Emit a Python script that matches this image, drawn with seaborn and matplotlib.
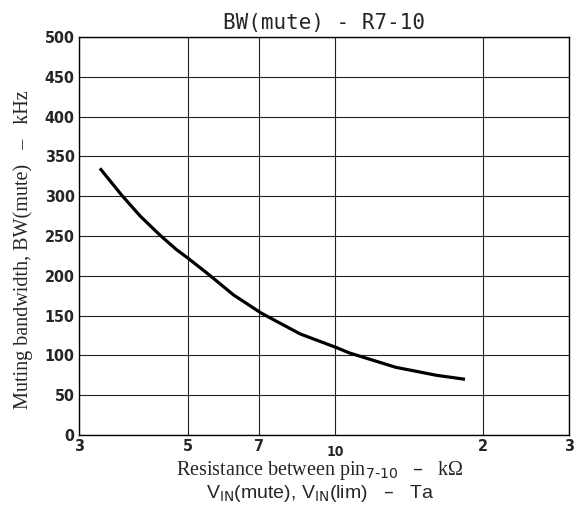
import numpy as np
import pandas as pd
import matplotlib
matplotlib.use("Agg")
import matplotlib.pyplot as plt
import matplotlib.transforms as mtransforms
from matplotlib.font_manager import FontProperties
import seaborn as sns

# values
resistance_k = [3.31, 3.67, 4.0, 4.39, 4.74, 5.01, 5.51, 6.2, 7.07, 8.48, 10.04, 10.7, 13.3, 16.1, 18.4]
bw_mute_khz = [335, 301, 275, 251, 233, 222, 202, 176, 153, 127, 110, 103, 85, 75, 70]
x_ticks = [3, 5, 7, 10, 20, 30]
x_tick_labels = ["3", "5", "7", "10", "2", "3"]
y_ticks = list(range(0, 501, 50))

df = pd.DataFrame({"R": resistance_k, "BW": bw_mute_khz})

sns.set_style("white")
fig = plt.figure(figsize=(5.76, 5.14), dpi=100)
ax = fig.add_axes([79 / 576, 1 - 435 / 514, 490 / 576, 398 / 514])

sns.lineplot(data=df, x="R", y="BW", ax=ax, color="black", linewidth=2.3)
ax.lines[0].set_solid_capstyle("butt")
ax.lines[0].set_solid_joinstyle("round")

ax.set_xscale("log")
ax.set_xlim(3, 30)
ax.set_ylim(0, 500)
ax.set_xticks(x_ticks)
ax.set_xticklabels(x_tick_labels)
ax.xaxis.set_minor_locator(matplotlib.ticker.NullLocator())
ax.set_yticks(y_ticks)
ax.grid(True, color="#222222", linewidth=0.8)
for s in ax.spines.values():
    s.set_color("black")
    s.set_linewidth(1.0)
ax.tick_params(axis="y", length=0, pad=3)
ax.tick_params(axis="x", length=0, pad=3)
yfont = FontProperties(family="DejaVu Sans", weight="bold", stretch="condensed", size=11.5)
xfont = FontProperties(family="DejaVu Sans", weight="bold", stretch="condensed", size=11.5)
for lab in ax.get_yticklabels():
    lab.set_fontproperties(yfont)
for lab in ax.get_xticklabels():
    lab.set_fontproperties(xfont)
# "10" sits lower and smaller than the other x labels
lab10 = ax.get_xticklabels()[3]
lab10.set_transform(lab10.get_transform() + mtransforms.ScaledTranslation(0, -4 / 72, fig.dpi_scale_trans))
lab10.set_fontsize(10)

ax.set_xlabel("")
ax.set_ylabel("")
ax.set_title("BW(mute) - R7-10", family="DejaVu Sans Mono", fontsize=15, pad=6)

fig.text(320 / 576, 1 - 471 / 514, "Resistance between pin$_{7\\text{-}10}$   \u2013   k\u03a9",
         family="Liberation Serif", fontsize=14.5, ha="center", va="center")
fig.text(320 / 576, 1 - 493 / 514, "V$_{\\mathrm{IN}}$(mute), V$_{\\mathrm{IN}}$(lim)   \u2013   Ta",
         family="Liberation Sans", fontsize=14, ha="center", va="center")
fig.text(23 / 576, 1 - 250 / 514, "Muting bandwidth, BW(mute)   \u2013   kHz",
         family="Liberation Serif", fontsize=14.5, rotation=90, ha="center", va="center")

fig.savefig("out.png", dpi=100)
